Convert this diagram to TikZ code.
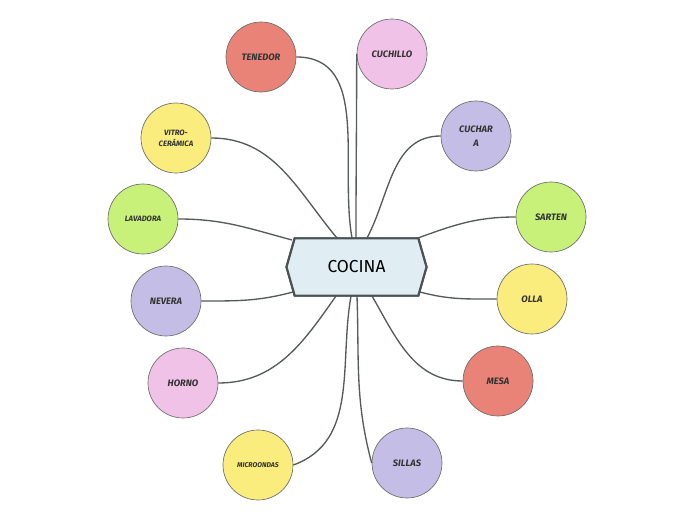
\documentclass[tikz,border=0pt]{standalone}
\usepackage{fontspec}
\setmainfont{Fira Sans}
\usetikzlibrary{shapes.symbols,calc}
\definecolor{rojo}{HTML}{E98378}
\definecolor{rosa}{HTML}{F0C2E7}
\definecolor{lila}{HTML}{C4BEE6}
\definecolor{verde}{HTML}{C8F17A}
\definecolor{amarillo}{HTML}{FAEC7D}
\definecolor{celeste}{HTML}{E0EEF4}
\definecolor{borde}{HTML}{4A5252}
\definecolor{linea}{HTML}{555A5A}
\tikzset{
  bola/.style={circle, draw=gray!85!black, line width=0.5pt, minimum size=52.5pt,
    inner sep=0pt, align=center, text=black!80,
    font=\fontsize{7pt}{8.5pt}\selectfont\bfseries\itshape},
  rama/.style={draw=linea, line width=1pt},
  centro/.style={signal, signal to=east and west, signal pointer angle=148,
    draw=borde, line width=1.6pt, fill=celeste,
    minimum width=105pt, minimum height=43pt, inner sep=0pt,
    font=\fontsize{13pt}{15pt}\selectfont},
}
\begin{document}
\begin{tikzpicture}[x=0.75pt, y=0.75pt]
    \useasboundingbox (0,0) rectangle (696,-520);
    % 1. Nodo central
    \node[centro] (c) at (356.5,-267) {COCINA};

    % 2. Elementos de la cocina
    \node[bola, fill=rojo] (tenedor) at (261,-57) {TENEDOR};
    \node[bola, fill=rosa] (cuchillo) at (392,-54) {CUCHILLO};
    \node[bola, fill=lila] (cuchara) at (476,-136) {CUCHAR\\[2pt]A};
    \node[bola, fill=verde] (sarten) at (551,-217) {SARTEN};
    \node[bola, fill=amarillo] (olla) at (532,-299) {OLLA};
    \node[bola, fill=rojo] (mesa) at (498,-381) {MESA};
    \node[bola, fill=lila] (sillas) at (407,-463) {SILLAS};
    \node[bola, fill=amarillo, font=\fontsize{5.2pt}{6pt}\selectfont\bfseries\itshape] (micro) at (258,-465) {MICROONDAS};
    \node[bola, fill=rosa] (horno) at (183,-383) {HORNO};
    \node[bola, fill=lila] (nevera) at (166,-301) {NEVERA};
    \node[bola, fill=verde, font=\fontsize{5.8pt}{7pt}\selectfont\bfseries\itshape] (lavadora) at (143,-219) {LAVADORA};
    \node[bola, fill=amarillo, font=\fontsize{5.8pt}{8.5pt}\selectfont\bfseries\itshape] (vitro) at (176,-138) {VITRO-\\CERÁMICA};

    % 3. Ramas hacia el centro
    \draw[rama] (vitro.east) to[out=0, in=130] ($(c.center)+(-19.5,29)$);
    \draw[rama] (tenedor.east) to[out=0, in=100] ($(c.center)+(-4.5,29)$);
    \draw[rama] (cuchillo.west) to[out=-90, in=90] ($(c.center)+(-0.5,29)$);
    \draw[rama] (cuchara.west) to[out=180, in=62] ($(c.center)+(10.5,29)$);
    \draw[rama] (sarten.west) to[out=180, in=20] ($(c.center)+(61.5,29)$);
    \draw[rama] (lavadora.east) to[out=0, in=165] ($(c.center)+(-64.5,27)$);
    \draw[rama] (nevera.east) to[out=0, in=195] ($(c.center)+(-63.5,-25)$);
    \draw[rama] (olla.west) to[out=180, in=-15] ($(c.center)+(63.5,-25)$);
    \draw[rama] (horno.east) to[out=0, in=-125] ($(c.center)+(-20.5,-29)$);
    \draw[rama] (micro.east) to[out=20, in=-100] ($(c.center)+(-5.5,-29)$);
    \draw[rama] (sillas.west) to[out=105, in=-88] ($(c.center)+(0.5,-29)$);
    \draw[rama] (mesa.west) to[out=180, in=-60] ($(c.center)+(15.5,-29)$);

    % 4. Redibujar el centro encima
    \node[centro] (c2) at (c.center) {COCINA};
\end{tikzpicture}
\end{document}
